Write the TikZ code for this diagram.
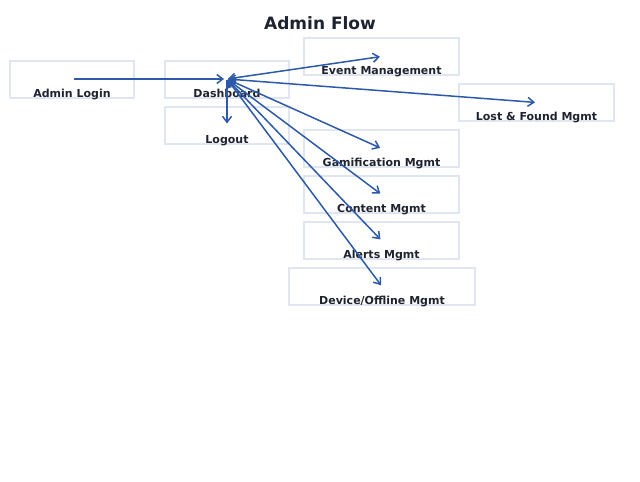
\documentclass[tikz,border=0pt]{standalone}
\usepackage{fontspec}
\setmainfont{DejaVu Sans}
\usetikzlibrary{arrows.meta}
\definecolor{boxc}{HTML}{E0E6F1}
\definecolor{arrc}{HTML}{2C5AA8}
\definecolor{txtc}{HTML}{1F2330}
\tikzset{
  box/.style={draw=boxc, line width=1.3pt, inner sep=0pt, minimum height=37pt},
  lbl/.style={anchor=base, text=txtc, font=\fontsize{11}{13}\selectfont\bfseries, inner sep=0pt},
  conn/.style={draw=arrc, line width=1.5pt, -{Straight Barb[length=6pt,width=9pt]}},
  bconn/.style={draw=arrc, line width=1.5pt, {Straight Barb[length=6pt,width=9pt]}-{Straight Barb[length=6pt,width=9pt]}}
}
\begin{document}
\begin{tikzpicture}[x=1pt,y=-1pt]
\useasboundingbox (0,0) rectangle (640,482);
\node[text=txtc, font=\fontsize{17}{20}\selectfont\bfseries] (title) at (320,23) {Admin Flow};
\node[box, minimum width=124pt] (login) at (72,79.5) {};
\node[box, minimum width=124pt] (dash) at (227,79.5) {};
\node[box, minimum width=124pt] (logout) at (227,125.5) {};
\node[box, minimum width=155pt] (event) at (381.5,56.5) {};
\node[box, minimum width=155pt] (lost) at (536.5,102.5) {};
\node[box, minimum width=155pt] (gam) at (381.5,148.5) {};
\node[box, minimum width=155pt] (content) at (381.5,194.5) {};
\node[box, minimum width=155pt] (alerts) at (381.5,240.5) {};
\node[box, minimum width=186pt] (device) at (382,286.5) {};
\node[lbl] (tlogin) at ([yshift=1pt]login.south) {Admin Login};
\node[lbl] (tdash) at ([yshift=1pt]dash.south) {Dashboard};
\node[lbl] (tlogout) at ([yshift=1pt]logout.south) {Logout};
\node[lbl] (tevent) at ([yshift=1pt]event.south) {Event Management};
\node[lbl] (tlost) at ([yshift=1pt]lost.south) {Lost \& Found Mgmt};
\node[lbl] (tgam) at ([yshift=1pt]gam.south) {Gamification Mgmt};
\node[lbl] (tcontent) at ([yshift=1pt]content.south) {Content Mgmt};
\node[lbl] (talerts) at ([yshift=1pt]alerts.south) {Alerts Mgmt};
\node[lbl] (tdevice) at ([yshift=1pt]device.south) {Device/Offline Mgmt};
\draw[conn, shorten <=2pt, shorten >=3pt] ([yshift=0.5pt]login.center) -- ([yshift=0.5pt]dash.center);
\draw[conn, shorten <=1pt, shorten >=2pt] ([yshift=0.5pt]dash.center) -- (logout.center);
\foreach \t in {event,lost,gam,content,alerts,device}
  \draw[bconn, shorten <=1pt, shorten >=1.5pt] ([yshift=0.5pt]dash.center) -- (\t.center);
\end{tikzpicture}
\end{document}
